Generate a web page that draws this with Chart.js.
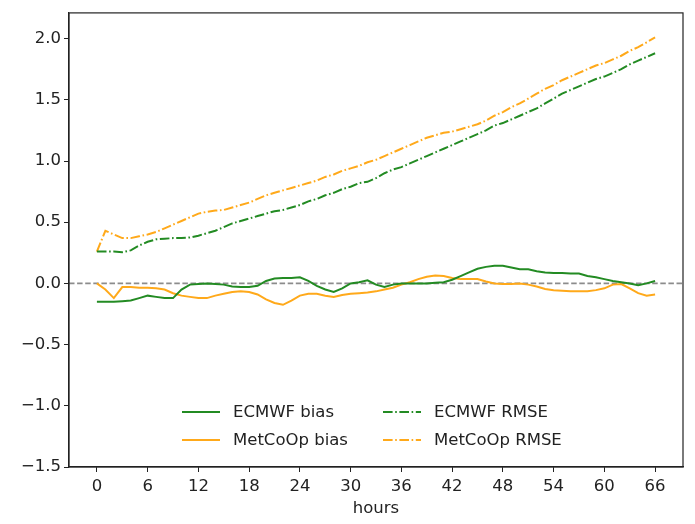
<!DOCTYPE html>
<html>
<head>
<meta charset="utf-8">
<script src="https://cdn.jsdelivr.net/npm/chart.js@4/dist/chart.umd.min.js"></script>
<style>
  html, body { margin: 0; padding: 0; background: #ffffff; }
  #wrap { width: 695px; height: 524px; }
</style>
</head>
<body>
<div id="wrap"><canvas id="c" width="695" height="524"></canvas></div>
<script>
const hours = [0,1,2,3,4,5,6,7,8,9,10,11,12,13,14,15,16,17,18,19,20,21,22,23,24,25,26,27,28,29,30,31,32,33,34,35,36,37,38,39,40,41,42,43,44,45,46,47,48,49,50,51,52,53,54,55,56,57,58,59,60,61,62,63,64,65,66];

const ecmwfBias = [-0.15,-0.15,-0.15,-0.145,-0.14,-0.12,-0.10,-0.11,-0.12,-0.12,-0.05,-0.01,-0.005,0.0,-0.005,-0.01,-0.025,-0.03,-0.03,-0.02,0.02,0.04,0.045,0.045,0.05,0.02,-0.02,-0.05,-0.07,-0.04,0.0,0.01,0.025,-0.01,-0.03,-0.01,0.0,0.0,0.0,0.0,0.005,0.01,0.03,0.06,0.09,0.12,0.135,0.145,0.145,0.13,0.115,0.115,0.10,0.09,0.085,0.085,0.08,0.08,0.06,0.05,0.035,0.02,0.01,0.0,-0.015,0.0,0.02];

const metcoopBias = [0.0,-0.05,-0.12,-0.03,-0.03,-0.035,-0.035,-0.04,-0.05,-0.08,-0.10,-0.11,-0.12,-0.12,-0.10,-0.085,-0.07,-0.065,-0.07,-0.09,-0.13,-0.16,-0.175,-0.14,-0.10,-0.085,-0.085,-0.10,-0.11,-0.095,-0.085,-0.08,-0.075,-0.065,-0.05,-0.035,-0.01,0.01,0.035,0.055,0.065,0.06,0.045,0.035,0.035,0.035,0.015,0.0,-0.005,-0.005,0.0,-0.01,-0.025,-0.045,-0.055,-0.06,-0.065,-0.065,-0.065,-0.055,-0.04,-0.01,-0.005,-0.04,-0.08,-0.10,-0.09];

const ecmwfRmse = [0.26,0.26,0.26,0.255,0.27,0.31,0.34,0.36,0.365,0.37,0.37,0.375,0.39,0.41,0.43,0.46,0.49,0.51,0.53,0.55,0.57,0.59,0.60,0.62,0.64,0.67,0.69,0.72,0.74,0.77,0.79,0.82,0.83,0.86,0.90,0.93,0.95,0.98,1.01,1.04,1.07,1.10,1.13,1.16,1.19,1.22,1.25,1.29,1.31,1.34,1.37,1.40,1.43,1.47,1.51,1.55,1.58,1.61,1.64,1.67,1.69,1.72,1.75,1.79,1.82,1.85,1.88];

const metcoopRmse = [0.26,0.43,0.40,0.37,0.37,0.385,0.40,0.42,0.45,0.48,0.51,0.54,0.57,0.585,0.595,0.60,0.62,0.64,0.66,0.69,0.72,0.74,0.76,0.78,0.80,0.82,0.84,0.87,0.89,0.92,0.94,0.96,0.99,1.01,1.04,1.07,1.10,1.13,1.16,1.19,1.21,1.23,1.24,1.26,1.28,1.30,1.33,1.37,1.40,1.44,1.47,1.51,1.55,1.59,1.62,1.66,1.69,1.72,1.75,1.78,1.80,1.83,1.86,1.90,1.93,1.97,2.01];

const seriesNames = ["ECMWF bias", "MetCoOp bias", "ECMWF RMSE", "MetCoOp RMSE"];
const xTicks = [0,6,12,18,24,30,36,42,48,54,60,66];
const yTicks = [-1.5,-1.0,-0.5,0.0,0.5,1.0,1.5,2.0];
const zeroLine = [0, 0];

const GREEN = '#238b23';
const ORANGE = '#ffa91a';
const DASHDOT = [9.6, 2.6, 1.6, 2.6];
const FONT = "'DejaVu Sans', sans-serif";
const FS = 16.5;

function pts(ys) { return hours.map((h, i) => ({x: h, y: ys[i]})); }

const legendPlugin = {
  id: 'mplLegend',
  afterDraw(chart) {
    const ctx = chart.ctx;
    const items = [
      {label: seriesNames[0], color: GREEN, dash: [], x: 182, y: 412},
      {label: seriesNames[1], color: ORANGE, dash: [], x: 182, y: 440},
      {label: seriesNames[2], color: GREEN, dash: DASHDOT, x: 383, y: 412},
      {label: seriesNames[3], color: ORANGE, dash: DASHDOT, x: 383, y: 440}
    ];
    ctx.save();
    items.forEach(it => {
      ctx.beginPath();
      ctx.setLineDash(it.dash);
      ctx.strokeStyle = it.color;
      ctx.lineWidth = 2;
      ctx.moveTo(it.x, it.y);
      ctx.lineTo(it.x + 38, it.y);
      ctx.stroke();
      ctx.setLineDash([]);
      ctx.fillStyle = '#222';
      ctx.font = FS + "px " + FONT;
      ctx.textBaseline = 'middle';
      ctx.textAlign = 'left';
      ctx.fillText(it.label, it.x + 51, it.y + 1);
    });
    ctx.restore();
  }
};

const framePlugin = {
  id: 'frame',
  afterDatasetsDraw(chart) {
    const a = chart.chartArea;
    const ctx = chart.ctx;
    ctx.save();
    ctx.strokeStyle = '#222';
    ctx.lineWidth = 1.2;
    ctx.setLineDash([]);
    ctx.strokeRect(a.left, a.top, a.right - a.left, a.bottom - a.top);
    ctx.restore();
  }
};

new Chart(document.getElementById('c'), {
  type: 'line',
  data: {
    datasets: [
      {label: 'zero', data: [{x: -3.3, y: zeroLine[0]}, {x: 69.3, y: zeroLine[1]}], borderColor: '#8c8c8c', borderWidth: 1.8, borderDash: [5.5, 2.6], pointRadius: 0, order: 5},
      {label: seriesNames[0], data: pts(ecmwfBias), borderColor: GREEN, borderWidth: 2, pointRadius: 0, tension: 0, order: 1},
      {label: seriesNames[1], data: pts(metcoopBias), borderColor: ORANGE, borderWidth: 2, pointRadius: 0, tension: 0, order: 2},
      {label: seriesNames[2], data: pts(ecmwfRmse), borderColor: GREEN, borderWidth: 2, borderDash: DASHDOT, pointRadius: 0, tension: 0, order: 3},
      {label: seriesNames[3], data: pts(metcoopRmse), borderColor: ORANGE, borderWidth: 2, borderDash: DASHDOT, pointRadius: 0, tension: 0, order: 4}
    ]
  },
  options: {
    responsive: false,
    animation: false,
    devicePixelRatio: 1,
    layout: {padding: {left: 0, right: 12, top: 8, bottom: 0}},
    plugins: {legend: {display: false}, tooltip: {enabled: false}, title: {display: false}},
    scales: {
      x: {
        type: 'linear',
        min: -3.3, max: 69.3,
        afterBuildTicks(s) { s.ticks = xTicks.map(v => ({value: v})); },
        afterFit(s) { s.height = 57; },
        grid: {display: true, drawOnChartArea: false, drawTicks: true, tickLength: 5, tickColor: '#222', color: '#222'},
        border: {display: true, color: '#222', width: 1.2},
        ticks: {font: {family: FONT, size: FS}, color: '#222', padding: 5, maxRotation: 0, autoSkip: false},
        title: {display: true, text: 'hours', font: {family: FONT, size: FS}, color: '#222', padding: {top: 2, bottom: 5}}
      },
      y: {
        type: 'linear',
        min: -1.5, max: 2.21,
        afterBuildTicks(s) { s.ticks = yTicks.map(v => ({value: v})); },
        afterFit(s) { s.width = 69; },
        grid: {display: true, drawOnChartArea: false, drawTicks: true, tickLength: 5, tickColor: '#222', color: '#222'},
        border: {display: true, color: '#222', width: 1.2},
        ticks: {font: {family: FONT, size: FS}, color: '#222', padding: 3, autoSkip: false,
          callback(v) { return (v < 0 ? '\u2212' : '') + Math.abs(v).toFixed(1); }}
      }
    }
  },
  plugins: [legendPlugin, framePlugin]
});
</script>
</body>
</html>
